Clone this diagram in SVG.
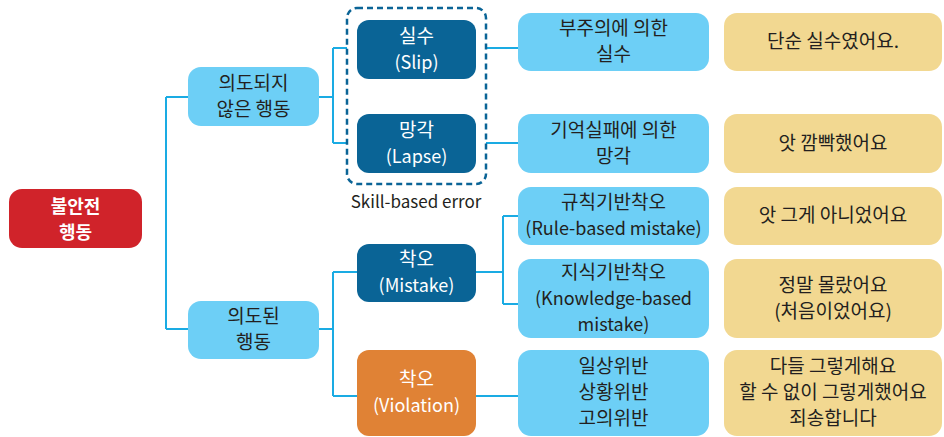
<svg xmlns="http://www.w3.org/2000/svg" width="944" height="437" viewBox="0 0 944 437">
<style>
text{font-family:"Noto Sans CJK KR","Noto Sans",sans-serif;font-size:19px;text-anchor:middle;fill:#231f20}
.l{font-size:18px}
.w{fill:#ffffff}
.b{font-weight:bold;font-size:18px}
.lb{fill:#6dcff6}
.db{fill:#0a6496}
.yl{fill:#f2d891}
.conn{fill:none;stroke:#1aabe3;stroke-width:2}
</style>
<rect width="944" height="437" fill="#ffffff"/>
<g id="connectors">
<path class="conn" d="M166 97V329M166 97H188M166 329H188"/>
<path class="conn" d="M319 97H333M333 48V143M333 48H347M333 143H347"/>
<path class="conn" d="M486 48H518M486 143H518"/>
<path class="conn" d="M319 329H333M333 272V396M333 272H357M333 396H357"/>
<path class="conn" d="M476 272H503M503 216V304M503 216H518M503 304H518"/>
<path class="conn" d="M476 396H518"/>
</g>
<g id="root">
<rect x="9" y="189" width="133" height="59" rx="13" fill="#d0232a"/>
<text class="w b" x="75.5" y="213">불안전</text>
<text class="w b" x="75.5" y="239">행동</text>
</g>
<g id="unintended">
<rect class="lb" x="188" y="67" width="131" height="59" rx="13"/>
<text x="253.5" y="90">의도되지</text>
<text x="253.5" y="116">않은 행동</text>
</g>
<g id="intended">
<rect class="lb" x="188" y="301" width="131" height="58" rx="13"/>
<text x="253.5" y="323">의도된</text>
<text x="253.5" y="349">행동</text>
</g>
<g id="skill-group">
<rect x="347" y="8" width="139" height="176" rx="10" fill="#ffffff" stroke="#0a6496" stroke-width="2.5" stroke-dasharray="6 4"/>
<text x="416" y="208" style="font-size:17px">Skill-based error</text>
</g>
<g id="slip">
<rect class="db" x="357" y="20" width="119" height="59" rx="12"/>
<text class="w" x="416.5" y="43">실수</text>
<text class="w l" x="416.5" y="69">(Slip)</text>
</g>
<g id="lapse">
<rect class="db" x="357" y="114" width="119" height="59" rx="12"/>
<text class="w" x="416.5" y="137">망각</text>
<text class="w l" x="416.5" y="163">(Lapse)</text>
</g>
<g id="mistake">
<rect class="db" x="357" y="244" width="119" height="58" rx="12"/>
<text class="w" x="416.5" y="266">착오</text>
<text class="w l" x="416.5" y="292">(Mistake)</text>
</g>
<g id="violation">
<rect x="357" y="350" width="119" height="86" rx="12" fill="#e08235"/>
<text class="w" x="416.5" y="386">착오</text>
<text class="w l" x="416.5" y="412">(Violation)</text>
</g>
<g id="slip-desc">
<rect class="lb" x="518" y="13" width="191" height="58" rx="13"/>
<text x="613.5" y="35">부주의에 의한</text>
<text x="613.5" y="61">실수</text>
</g>
<g id="lapse-desc">
<rect class="lb" x="518" y="114" width="191" height="59" rx="13"/>
<text x="613.5" y="137">기억실패에 의한</text>
<text x="613.5" y="163">망각</text>
</g>
<g id="rule-based">
<rect class="lb" x="518" y="187" width="191" height="58" rx="13"/>
<text x="613.5" y="209">규칙기반착오</text>
<text class="l" x="613.5" y="235">(Rule-based mistake)</text>
</g>
<g id="knowledge-based">
<rect class="lb" x="518" y="259" width="191" height="79" rx="13"/>
<text x="613.5" y="279">지식기반착오</text>
<text class="l" x="613.5" y="305">(Knowledge-based</text>
<text class="l" x="613.5" y="331">mistake)</text>
</g>
<g id="violation-types">
<rect class="lb" x="518" y="350" width="191" height="86" rx="13"/>
<text x="613.5" y="373">일상위반</text>
<text x="613.5" y="399">상황위반</text>
<text x="613.5" y="425">고의위반</text>
</g>
<g id="say-slip">
<rect class="yl" x="724" y="13" width="218" height="58" rx="13"/>
<text x="833" y="48">단순 실수였어요.</text>
</g>
<g id="say-lapse">
<rect class="yl" x="724" y="114" width="218" height="59" rx="13"/>
<text x="833" y="150">앗 깜빡했어요</text>
</g>
<g id="say-rule">
<rect class="yl" x="724" y="187" width="218" height="58" rx="13"/>
<text x="833" y="222">앗 그게 아니었어요</text>
</g>
<g id="say-knowledge">
<rect class="yl" x="724" y="259" width="218" height="79" rx="13"/>
<text x="833" y="292">정말 몰랐어요</text>
<text x="833" y="318">(처음이었어요)</text>
</g>
<g id="say-violation">
<rect class="yl" x="724" y="350" width="218" height="86" rx="13"/>
<text x="833" y="373">다들 그렇게해요</text>
<text x="833" y="399">할 수 없이 그렇게했어요</text>
<text x="833" y="425">죄송합니다</text>
</g>
</svg>
